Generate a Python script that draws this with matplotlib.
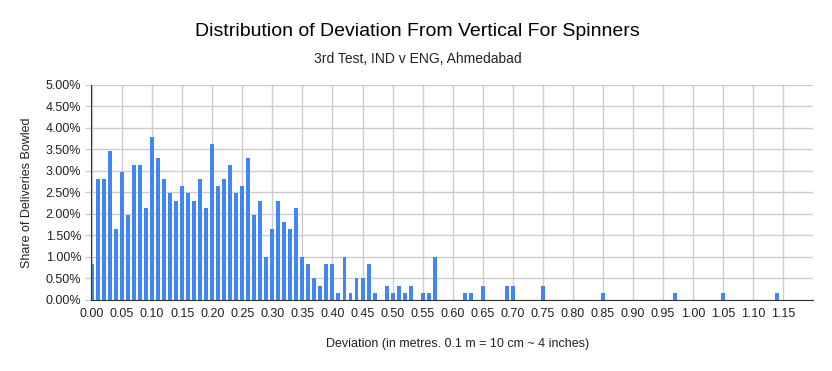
import matplotlib
matplotlib.use("Agg")
import matplotlib.pyplot as plt
from matplotlib.ticker import FuncFormatter, MultipleLocator

plt.rcParams['font.family'] = ['Liberation Sans', 'DejaVu Sans']

# Deviation (m) and share of deliveries (%)
deviation = [0.00, 0.01, 0.02, 0.03, 0.04, 0.05, 0.06, 0.07, 0.08, 0.09,
             0.10, 0.11, 0.12, 0.13, 0.14, 0.15, 0.16, 0.17, 0.18, 0.19,
             0.20, 0.21, 0.22, 0.23, 0.24, 0.25, 0.26, 0.27, 0.28, 0.29,
             0.30, 0.31, 0.32, 0.33, 0.34, 0.35, 0.36, 0.37, 0.38, 0.39,
             0.40, 0.41, 0.42, 0.43, 0.44, 0.45, 0.46, 0.47, 0.49,
             0.50, 0.51, 0.52, 0.53, 0.55, 0.56, 0.57,
             0.62, 0.63, 0.65, 0.69, 0.70, 0.75, 0.85, 0.97, 1.05, 1.14]
share = [0.83, 2.81, 2.81, 3.47, 1.65, 2.97, 1.98, 3.14, 3.14, 2.15,
         3.80, 3.30, 2.81, 2.48, 2.31, 2.64, 2.48, 2.31, 2.81, 2.15,
         3.63, 2.64, 2.81, 3.14, 2.48, 2.64, 3.30, 1.98, 2.31, 0.99,
         1.65, 2.31, 1.82, 1.65, 2.15, 0.99, 0.83, 0.50, 0.33, 0.83,
         0.83, 0.17, 0.99, 0.17, 0.50, 0.50, 0.83, 0.17, 0.33,
         0.17, 0.33, 0.17, 0.33, 0.17, 0.17, 0.99,
         0.17, 0.17, 0.33, 0.33, 0.33, 0.33, 0.17, 0.17, 0.17, 0.17]

title = "Distribution of Deviation From Vertical For Spinners"
subtitle = "3rd Test, IND v ENG, Ahmedabad"
xlabel = "Deviation (in metres. 0.1 m = 10 cm ~ 4 inches)"
ylabel = "Share of Deliveries Bowled"

fig = plt.figure(figsize=(8.32, 3.71), dpi=100)
ax = fig.add_axes([0.1094, 0.1914, 0.8678, 0.5795])

ax.bar(deviation, share, width=0.0066, color='#4285F4', zorder=3)

ax.set_xlim(-0.0017, 1.1995)
ax.set_ylim(0, 5)
ax.xaxis.set_major_locator(MultipleLocator(0.05))
ax.yaxis.set_major_locator(MultipleLocator(0.5))
ax.xaxis.set_major_formatter(FuncFormatter(lambda v, p: f"{v:.2f}"))
ax.yaxis.set_major_formatter(FuncFormatter(lambda v, p: f"{v:.2f}%"))
ax.grid(True, color='#cccccc', linewidth=1, zorder=0)
ax.tick_params(axis='x', length=0, labelsize=9, colors='#222222', pad=6)
ax.tick_params(axis='y', length=4, width=1, color='#cccccc', labelsize=9,
               labelcolor='#222222', pad=3)
for s in ['top', 'right']:
    ax.spines[s].set_visible(False)
ax.spines['left'].set_color('#333333')
ax.spines['bottom'].set_color('#333333')
ax.spines['left'].set_zorder(4)
ax.spines['bottom'].set_zorder(4)

fig.text(0.502, 0.915, title, ha='center', va='center', fontsize=14, color='#000000')
fig.text(0.502, 0.840, subtitle, ha='center', va='center', fontsize=10, color='#222222')
fig.text(0.55, 0.073, xlabel, ha='center', va='center', fontsize=9, color='#222222')
fig.text(0.033, 0.48, ylabel, ha='center', va='center', rotation=90, fontsize=9, color='#222222')

fig.savefig('out.png', dpi=100)
